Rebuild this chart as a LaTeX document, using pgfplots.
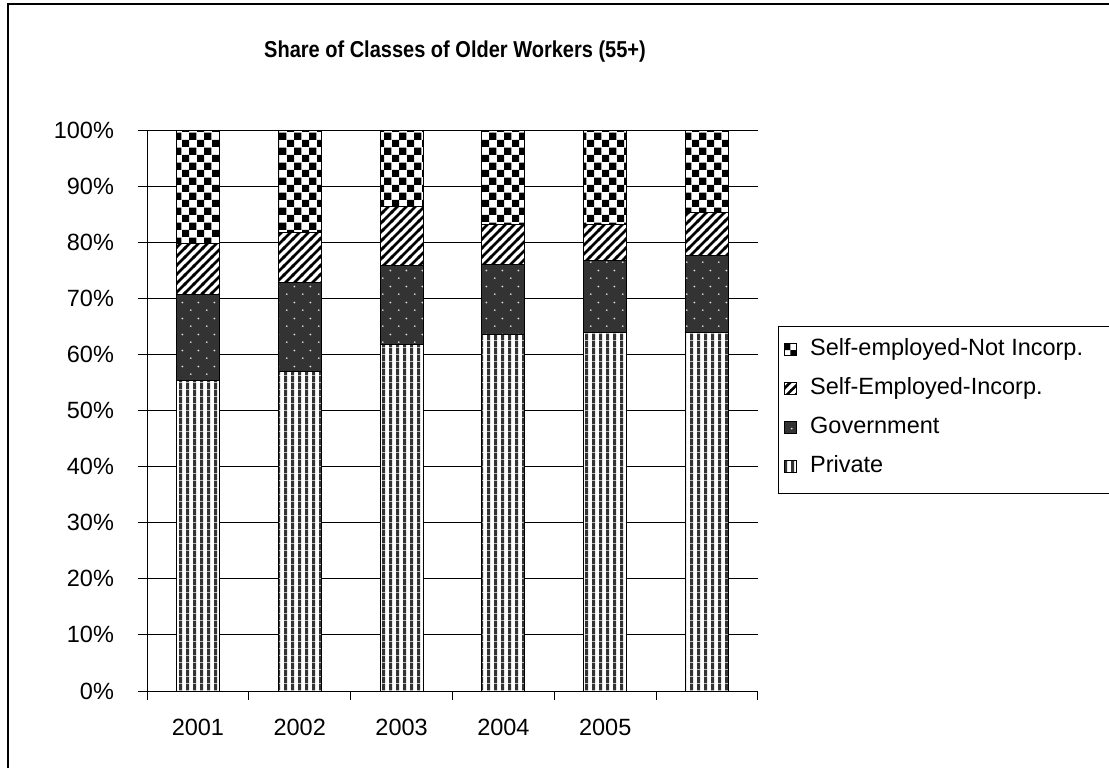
\documentclass[border=0pt]{standalone}
\usepackage{pgfplots}
\pgfplotsset{compat=1.18}
\usepackage{pgfplotstable}
\usepackage{fontspec}
\setmainfont{Liberation Sans}
\newfontfamily\titlefont[FakeStretch=0.87]{Liberation Sans}
\usetikzlibrary{patterns}

\pgfdeclarepatternformonly{myvlines}{\pgfqpoint{0pt}{0pt}}{\pgfqpoint{3.6pt}{3.6pt}}{\pgfqpoint{3.6pt}{3.6pt}}{%
  \pgfpathrectangle{\pgfqpoint{0pt}{0pt}}{\pgfqpoint{1.7pt}{3.6pt}}\pgfusepath{fill}}
\pgfdeclarepatternformonly{mydiag}{\pgfqpoint{0pt}{0pt}}{\pgfqpoint{4.4pt}{4.4pt}}{\pgfqpoint{4.4pt}{4.4pt}}{%
  \pgfsetlinewidth{1.3pt}%
  \pgfpathmoveto{\pgfqpoint{-1pt}{-1pt}}\pgfpathlineto{\pgfqpoint{5.4pt}{5.4pt}}%
  \pgfpathmoveto{\pgfqpoint{-1pt}{3.4pt}}\pgfpathlineto{\pgfqpoint{1pt}{5.4pt}}%
  \pgfpathmoveto{\pgfqpoint{3.4pt}{-1pt}}\pgfpathlineto{\pgfqpoint{5.4pt}{1pt}}%
  \pgfusepath{stroke}}
\pgfdeclarepatternformonly{mycheck}{\pgfqpoint{0pt}{0pt}}{\pgfqpoint{7.6pt}{7.6pt}}{\pgfqpoint{7.6pt}{7.6pt}}{%
  \pgfpathrectangle{\pgfqpoint{0pt}{0pt}}{\pgfqpoint{3.8pt}{3.8pt}}%
  \pgfpathrectangle{\pgfqpoint{3.8pt}{3.8pt}}{\pgfqpoint{3.8pt}{3.8pt}}%
  \pgfusepath{fill}}
\pgfdeclarepatternformonly{mydots}{\pgfqpoint{0pt}{0pt}}{\pgfqpoint{7.8pt}{7.8pt}}{\pgfqpoint{7.8pt}{7.8pt}}{%
  \pgfpathcircle{\pgfqpoint{1.95pt}{1.95pt}}{0.5pt}%
  \pgfpathcircle{\pgfqpoint{5.85pt}{5.85pt}}{0.5pt}%
  \pgfusepath{fill}}

\pgfplotstableread{
x priv gov seinc senot
1 55.3 15.3 9.1 20.3
2 56.9 15.9 8.9 18.3
3 61.8 14.1 10.4 13.7
4 63.6 12.4 7.2 16.8
5 63.9 12.8 6.4 16.9
6 63.9 13.8 7.6 14.7
}\datatable

\begin{document}
\begin{tikzpicture}[x=1pt,y=1pt]
\useasboundingbox (0,0) rectangle (554.5,384);
\draw[line width=0.75pt] (4,0) -- (4,382) -- (554.5,382);
\node[font=\titlefont\bfseries\fontsize{11.5}{13}\selectfont] at (227.5,358) {Share of Classes of Older Workers (55+)};
\draw[line width=0.5pt] (554.5,221) -- (389,221) -- (389,137.5) -- (554.5,137.5);
\begin{axis}[
  at={(73.5pt,38.5pt)}, anchor=south west,
  scale only axis, width=305.5pt, height=280.5pt,
  ymin=0, ymax=100, xmin=0.5, xmax=6.5,
  ybar stacked, bar width=21.5pt,
  axis x line*=bottom, axis y line*=left,
  axis line style={line width=0.5pt, -},
  ytick={0,10,...,100},
  yticklabel={\pgfmathprintnumber{\tick}\%},
  xtick={0.5,1.5,...,6.5}, xticklabels={},
  extra x ticks={1,2,3,4,5},
  extra x tick labels={2001,2002,2003,2004,2005},
  extra x tick style={major tick length=0pt, xticklabel style={yshift=-10.5pt}},
  ymajorgrids, grid style={black, line width=0.5pt},
  tick align=outside,
  major tick length=4.5pt,
  xtick style={black, line width=0.5pt},
  ytick style={black, line width=0.5pt},
  tick label style={font=\fontsize{11.75}{14}\selectfont},
  /pgf/number format/assume math mode=true,
  yticklabel style={xshift=-8.5pt},
  legend style={at={(1.0327,0.6506)}, anchor=north west, draw=none, fill=none,
    font=\fontsize{11.75}{14}\selectfont, cells={anchor=west},
    inner xsep=3pt, inner ysep=6pt, row sep=8.5pt,
    nodes={inner sep=0pt, text height=8.5pt, text depth=2.5pt},
    /tikz/every odd column/.append style={column sep=6.5pt}},
  reverse legend,
  legbox/.style={legend image code/.code={\draw[##1,draw=black,line width=0.4pt] (0pt,-3pt) rectangle (6pt,3pt);}},
]
\addplot[legbox, draw=black, line width=0.5pt, fill=white, postaction={pattern=myvlines, pattern color=black!80}] table[x=x,y=priv] {\datatable};
\addplot[legbox, draw=black, line width=0.5pt, fill=black!80, postaction={pattern=mydots, pattern color=black!15}] table[x=x,y=gov] {\datatable};
\addplot[legbox, draw=black, line width=0.5pt, fill=white, postaction={pattern=mydiag, pattern color=black}] table[x=x,y=seinc] {\datatable};
\addplot[legbox, draw=black, line width=0.5pt, fill=white, postaction={pattern=mycheck, pattern color=black}] table[x=x,y=senot] {\datatable};
\legend{Private, Government, Self-Employed-Incorp., Self-employed-Not Incorp.}
\end{axis}
\end{tikzpicture}
\end{document}
